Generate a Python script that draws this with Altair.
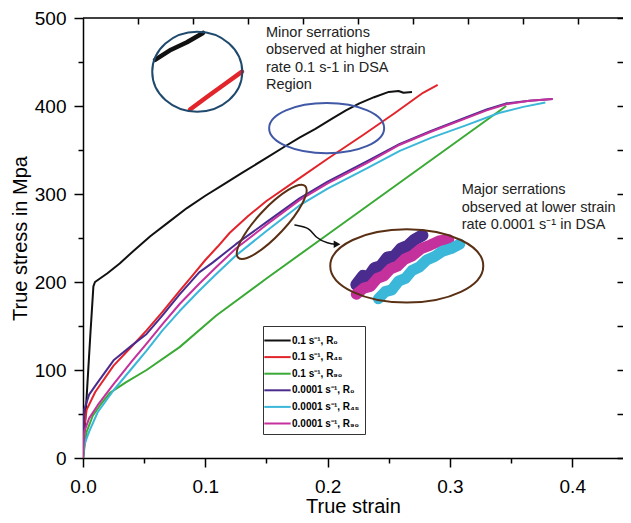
import altair as alt
import pandas as pd

# ---------------- data ----------------
SERIES = ["0.1 s⁻¹, R₀", "0.1 s⁻¹, R₄₅", "0.1 s⁻¹, R₉₀",
          "0.0001 s⁻¹, R₀", "0.0001 s⁻¹, R₄₅", "0.0001 s⁻¹, R₉₀"]
COLORS = ["#111111", "#e2242b", "#3aaa35", "#4a2c8f", "#3ab7d9", "#c4309c"]

black_x = [0, 0.003, 0.006, 0.0085, 0.0098, 0.02, 0.03, 0.041, 0.055, 0.07, 0.085, 0.1, 0.115,
           0.13, 0.15, 0.165, 0.177, 0.19, 0.204, 0.215, 0.226, 0.238, 0.25, 0.258, 0.262, 0.269]
black_y = [0, 70, 140, 195, 200, 210, 221, 235, 252, 268, 284, 298, 311,
           324, 341, 354, 364, 374, 386, 395, 403, 410, 416, 417, 415, 416]

red_x = [0, 0.001, 0.003, 0.01, 0.025, 0.04, 0.052, 0.065, 0.079, 0.09, 0.1, 0.11, 0.12,
         0.135, 0.15, 0.175, 0.2, 0.229, 0.255, 0.278, 0.29]
red_y = [0, 35, 55, 75, 105, 127, 145, 166, 190, 208, 225, 240, 256,
         275, 292, 316, 340, 367, 392, 415, 424]

green_x = [0, 0.003, 0.008, 0.014, 0.022, 0.035, 0.052, 0.079, 0.109, 0.15, 0.2, 0.25,
           0.3, 0.346]
green_y = [0, 30, 48, 60, 74, 86, 100, 126, 162, 204, 254, 304, 354, 400]

purple_x = [0, 0.001, 0.005, 0.011, 0.025, 0.04, 0.052, 0.065, 0.079, 0.095, 0.106, 0.125, 0.15,
            0.177, 0.2, 0.232, 0.259, 0.285, 0.313, 0.33, 0.346, 0.365, 0.384]
purple_y = [0, 55, 72, 84, 111, 128, 141, 162, 186, 211, 222, 243, 268,
            295, 314, 337, 357, 372, 387, 396, 403, 406, 408]

cyan_x = [0, 0.001, 0.005, 0.012, 0.025, 0.04, 0.052, 0.065, 0.079, 0.095, 0.109, 0.125, 0.15,
          0.177, 0.2, 0.232, 0.259, 0.285, 0.313, 0.34, 0.36, 0.378]
cyan_y = [0, 15, 30, 52, 77, 102, 122, 145, 167, 190, 209, 230, 258,
          287, 306, 329, 349, 364, 378, 392, 399, 404]

magenta_x = [0, 0.001, 0.005, 0.012, 0.025, 0.04, 0.052, 0.065, 0.079, 0.095, 0.109, 0.125, 0.15,
             0.177, 0.2, 0.232, 0.259, 0.285, 0.313, 0.33, 0.346, 0.365, 0.384]
magenta_y = [0, 30, 45, 60, 84, 110, 130, 152, 175, 198, 217, 238, 265,
             293, 312, 335, 356, 371, 386, 395, 402, 406, 408]

# magnified serrations inside the big inset ellipse
zoom_purple_x = [0.2235, 0.229, 0.2335, 0.2385, 0.2435, 0.249, 0.2545, 0.26, 0.2655, 0.271, 0.2775]
zoom_purple_y = [197.0, 207.0, 206.0, 216.0, 218.0, 228.0, 229.0, 238.0, 241.0, 248.0, 253.0]
zoom_magenta_x = [0.2235, 0.2295, 0.235, 0.2405, 0.246, 0.2515, 0.257, 0.263, 0.2695, 0.2765,
                  0.284, 0.292, 0.299]
zoom_magenta_y = [186.0, 193.0, 195.0, 204.0, 207.0, 215.0, 218.0, 226.0, 230.0, 238.0,
                  242.0, 247.0, 248.0]
zoom_cyan_x = [0.2415, 0.247, 0.2525, 0.258, 0.2635, 0.269, 0.275, 0.281, 0.2875, 0.294, 0.301,
               0.308]
zoom_cyan_y = [181.0, 189.0, 191.0, 201.0, 204.0, 213.0, 217.0, 225.0, 229.0, 235.0, 238.0,
               243.0]

# magnified minor serrations inside the top-left inset circle
zoom_black_x = [0.0589, 0.072, 0.085, 0.0981]
zoom_black_y = [452.5, 464.0, 472.5, 483.0]
zoom_red_x = [0.0875, 0.101, 0.116, 0.130]
zoom_red_y = [396.0, 410.0, 425.0, 439.0]

arrow_x = [0.1733, 0.1856, 0.1897, 0.2004, 0.2077]
arrow_y = [264.7, 261.7, 250.4, 243.6, 242.9]

TEXT_MINOR = "Minor serrations\nobserved at higher strain\nrate 0.1 s-1 in DSA\nRegion"
TEXT_MAJOR = "Major serrations\nobserved at lower strain\nrate 0.0001 s⁻¹ in DSA"

# ---------------- tables ----------------
rows = []
for name, xs_, ys_ in zip(SERIES,
                          [black_x, red_x, green_x, purple_x, cyan_x, magenta_x],
                          [black_y, red_y, green_y, purple_y, cyan_y, magenta_y]):
    for a, b in zip(xs_, ys_):
        rows.append({"series": name, "strain": a, "stress": b})
df = pd.DataFrame(rows)


def tbl(xs_, ys_):
    return pd.DataFrame({"strain": xs_, "stress": ys_})


W, H = 540, 440
FONT = "Liberation Sans"
xsc = alt.Scale(domain=[0, 0.4415], nice=False, zero=False)
ysc = alt.Scale(domain=[0, 500], nice=False, zero=False)

x_vals = [round(0.05 * k, 2) for k in range(9)]
y_vals = [50 * k for k in range(11)]

x_axis = alt.Axis(values=x_vals, title="True strain", grid=False,
                  labelExpr="round(datum.value*20) % 2 === 0 ? format(datum.value, '.1f') : ''",
                  tickSize={"condition": {"test": "round(datum.value*20) % 2 === 1", "value": 5}, "value": 9},
                  labelPadding=10, titlePadding=0, labelFontSize=19, titleFontSize=20,
                  labelFont=FONT, titleFont=FONT, titleFontWeight="normal",
                  domainColor="black", tickColor="black", labelColor="black", titleColor="black",
                  domainWidth=1.5, tickWidth=1.5, labelFlush=False)
y_axis = alt.Axis(values=y_vals, title="True stress in Mpa", grid=False,
                  labelExpr="datum.value % 100 === 0 ? datum.label : ''",
                  tickSize={"condition": {"test": "datum.value % 100 !== 0", "value": 5}, "value": 9},
                  labelPadding=8, titlePadding=4, labelFontSize=19, titleFontSize=20,
                  labelFont=FONT, titleFont=FONT, titleFontWeight="normal",
                  domainColor="black", tickColor="black", labelColor="black", titleColor="black",
                  domainWidth=1.5, tickWidth=1.5, labelFlush=False)

legend = alt.Legend(orient="none", legendX=180, legendY=308, title=None,
                    strokeColor="#333", fillColor="white", padding=5,
                    labelFont=FONT, labelFontSize=10, labelFontWeight="bold", labelColor="black",
                    symbolType="M -1.55 0 L 1.55 0", symbolSize=289, symbolStrokeWidth=2.5,
                    symbolOffset=0, rowPadding=1.6, labelOffset=5)

lines = alt.Chart(df).mark_line(clip=True, strokeJoin="round").encode(
    x=alt.X("strain:Q", scale=xsc, axis=x_axis),
    y=alt.Y("stress:Q", scale=ysc, axis=y_axis),
    color=alt.Color("series:N", scale=alt.Scale(domain=SERIES, range=COLORS), legend=legend),
    strokeWidth=alt.StrokeWidth("series:N",
                                scale=alt.Scale(domain=SERIES, range=[2, 2, 2, 3, 3, 3]),
                                legend=None),
)

# top axis: inward ticks only
top_ticks = alt.Chart(tbl([0.0], [0.0])).mark_point(opacity=0).encode(
    x=alt.X("strain:Q", scale=xsc,
            axis=alt.Axis(orient="top", values=[round(0.045 * k, 3) for k in range(1, 10)],
                          labels=False, domain=False, tickSize=6, offset=-6, title=None,
                          tickColor="black", tickWidth=1.5, grid=False)),
    y=alt.Y("stress:Q", scale=ysc, axis=None),
)
# right axis: inward ticks only
right_ticks = alt.Chart(tbl([0.0], [0.0])).mark_point(opacity=0).encode(
    x=alt.X("strain:Q", scale=xsc, axis=None),
    y=alt.Y("stress:Q", scale=ysc,
            axis=alt.Axis(orient="right", values=y_vals, labels=False, domain=False,
                          tickSize=6, offset=-6, title=None, tickColor="black",
                          tickWidth=1.5, grid=False)),
)
top_line = alt.Chart(tbl([0.0], [0.0])).mark_rule(color="black", strokeWidth=1.5).encode(
    x=alt.value(0), x2=alt.value(W), y=alt.value(0))


def ellipse(cx, cy, width, ratio, color, angle=0, sw=2.0):
    path = f"M -1 0 A 1 {ratio} 0 1 1 1 0 A 1 {ratio} 0 1 1 -1 0 Z"
    return alt.Chart(tbl([cx], [cy])).mark_point(
        shape=path, size=width * width, filled=False, stroke=color, strokeWidth=sw,
        opacity=1, angle=angle).encode(
        x=alt.X("strain:Q", scale=xsc, axis=None),
        y=alt.Y("stress:Q", scale=ysc, axis=None))


def path_line(xs_, ys_, color, sw, interp="linear"):
    return alt.Chart(tbl(xs_, ys_)).mark_line(color=color, strokeWidth=sw, interpolate=interp,
                                              strokeCap="round", strokeJoin="round").encode(
        x=alt.X("strain:Q", scale=xsc, axis=None),
        y=alt.Y("stress:Q", scale=ysc, axis=None))


def text(cx, cy, s):
    return alt.Chart(tbl([cx], [cy])).mark_text(
        text=s, lineBreak="\n", lineHeight=17.4, align="left", baseline="top",
        font=FONT, fontSize=14.5, color="#222").encode(
        x=alt.X("strain:Q", scale=xsc, axis=None),
        y=alt.Y("stress:Q", scale=ysc, axis=None))


annots = [
    path_line(zoom_black_x, zoom_black_y, "#111111", 4.5),
    path_line(zoom_red_x, zoom_red_y, "#e2242b", 4.5),
    ellipse(0.0934, 438.9, 90, 0.889, "#1f4a6e"),
    ellipse(0.1992, 374.8, 115, 0.436, "#4058a6"),
    ellipse(0.1543, 268.3, 98, 0.28, "#5a3015", angle=313),
    path_line(zoom_purple_x, zoom_purple_y, "#4a2c8f", 12),
    path_line(zoom_magenta_x, zoom_magenta_y, "#c4309c", 11),
    path_line(zoom_cyan_x, zoom_cyan_y, "#3ab7d9", 11),
    ellipse(0.2647, 218.3, 153, 0.479, "#5a3015"),
    path_line(arrow_x, arrow_y, "#111111", 1.5, "basis"),
    alt.Chart(tbl([arrow_x[-1]], [arrow_y[-1]])).mark_point(
        shape="triangle-right", size=60, filled=True, color="#111111", opacity=1).encode(
        x=alt.X("strain:Q", scale=xsc, axis=None),
        y=alt.Y("stress:Q", scale=ysc, axis=None)),
    text(0.1496, 491, TEXT_MINOR),
    text(0.3096, 312.2, TEXT_MAJOR),
]

chart = alt.layer(lines, *annots, top_ticks, right_ticks, top_line).resolve_axis(
    x="independent", y="independent"
).properties(
    width=W, height=H,
    autosize=alt.AutoSizeParams(type="none"),
    padding={"left": 75, "top": 10, "right": 0, "bottom": 57},
    background="white",
).configure_view(stroke=None)

chart.save("out.html", embed_options={"renderer": "svg", "actions": False})
